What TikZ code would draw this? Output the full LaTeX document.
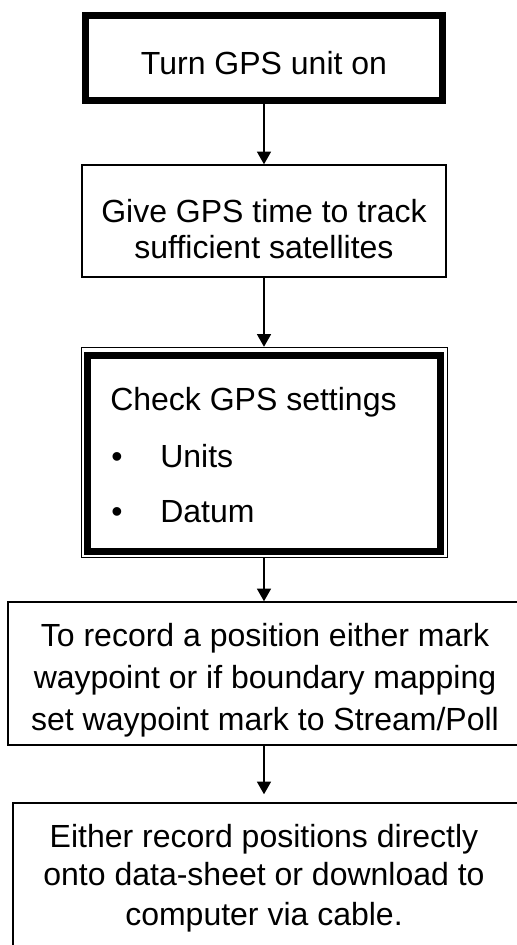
\documentclass[tikz,border=0pt]{standalone}
\usepackage{fontspec}
\setmainfont{Liberation Sans}
\usetikzlibrary{arrows.meta}
\begin{document}
\begin{tikzpicture}[x=0.75pt,y=-0.75pt,
  thinbox/.style={draw=black,line width=1.1pt,inner sep=0pt,rectangle},
  thickbox/.style={draw=black,line width=5.25pt,inner sep=0pt,rectangle},
  txt/.style={anchor=base,inner sep=0pt,font=\fontsize{24}{28}\selectfont},
  flow/.style={draw=black,line width=1.1pt,-{Triangle[length=9.5pt,width=10.5pt]}}]
\useasboundingbox (0,0) rectangle (517,945);
\fill[white] (0,0) rectangle (517,945);
\coordinate (ax) at (264,0);
% boxes
\node[thickbox,minimum width=267.75pt,minimum height=63.75pt] (b1) at (264,58) {};
\node[thinbox,minimum width=273pt,minimum height=84pt] (b2) at (264,221) {};
\node[thinbox,minimum width=274.5pt,minimum height=157.5pt] (b3) at (264.5,452.5) {};
\node[thickbox,minimum width=264.75pt,minimum height=147pt] (b3in) at (264,453) {};
\node[thinbox,minimum width=399pt,minimum height=107.25pt] (b4) at (274,673.5) {};
\node[thinbox,minimum width=410.25pt,minimum height=132.75pt] (b5) at (286.5,891.5) {};
% texts
\node[txt] (t1) at (264,75) {Turn GPS unit on};
\node[txt] (t2a) at (264,222) {Give GPS time to track};
\node[txt] (t2b) at (264,258) {sufficient satellites};
\node[txt,anchor=base west] (t3) at (110,410) {Check GPS settings};
\node[txt] (u1) at (117,467) {•};
\node[txt,anchor=base west] (u2) at (160,467) {Units};
\node[txt] (d1) at (117,522) {•};
\node[txt,anchor=base west] (d2) at (160,522) {Datum};
\node[txt] (t4a) at (265,646) {To record a position either mark};
\node[txt] (t4b) at (265,688) {waypoint or if boundary mapping};
\node[txt] (t4c) at (265,730) {set waypoint mark to Stream/Poll};
\node[txt] (t5a) at (264,847) {Either record positions directly};
\node[txt] (t5b) at (264,885) {onto data-sheet or download to};
\node[txt] (t5c) at (264,925) {computer via cable.};
% connectors
\draw[flow] (b1.south -| ax) -- (b2.north -| ax);
\draw[flow] (b2.south -| ax) -- (b3.north -| ax);
\draw[flow] (b3.south -| ax) -- (b4.north -| ax);
\draw[flow,shorten >=6pt] (b4.south -| ax) -- (b5.north -| ax);
\end{tikzpicture}
\end{document}
